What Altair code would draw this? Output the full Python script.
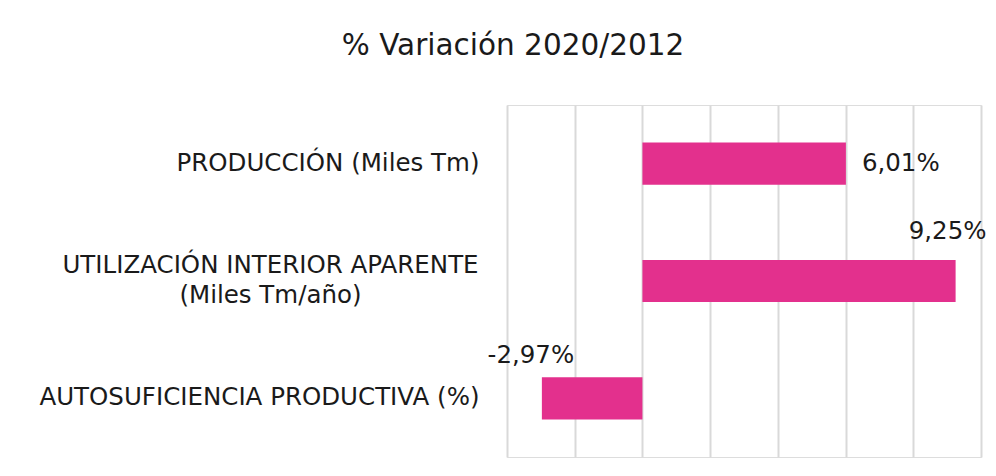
import altair as alt
import pandas as pd

categories = [
    "PRODUCCIÓN (Miles Tm)",
    "UTILIZACIÓN INTERIOR APARENTE|(Miles Tm/año)",
    "AUTOSUFICIENCIA PRODUCTIVA (%)",
]
variation = [6.01, 9.25, -2.97]
x_ticks = [-4, -2, 0, 2, 4, 6, 8, 10]
title_text = "% Variación 2020/2012"

FONT = "DejaVu Sans"
PINK = "#E3308D"
TXT = "#1a1a1a"

df = pd.DataFrame({"cat": categories, "v": variation})

two_line = "indexof(datum.value, '|') >= 0"

y_enc = alt.Y(
    "cat:N",
    sort=categories,
    title=None,
    scale=alt.Scale(paddingInner=0.64, paddingOuter=0.32),
    axis=alt.Axis(
        domain=False,
        ticks=False,
        grid=False,
        labelExpr="split(datum.label, '|')",
        labelFont=FONT,
        labelFontSize=24.5,
        labelColor=TXT,
        labelLimit=700,
        labelLineHeight=30,
        labelAlign={"condition": {"test": two_line, "value": "center"}, "value": "right"},
        labelPadding={"condition": {"test": two_line, "value": 237}, "value": 28},
        labelOffset={"condition": {"test": two_line, "value": -15}, "value": 0},
    ),
)

x_enc = alt.X(
    "v:Q",
    scale=alt.Scale(domain=[x_ticks[0], x_ticks[-1]], nice=False, zero=True),
    axis=alt.Axis(
        values=x_ticks,
        grid=True,
        gridColor="#d9d9d9",
        gridWidth=2,
        labels=False,
        ticks=False,
        domain=False,
        title=None,
    ),
)

base = alt.Chart(df).encode(y=y_enc, x=x_enc)

bars = base.mark_bar(color=PINK)

label_expr = "(datum.v < 0 ? '-' : '') + replace(format(abs(datum.v), '.2f'), '.', ',') + '%'"


def value_text(idx, align, dx, dy):
    return (
        base.transform_filter(alt.datum.cat == categories[idx])
        .transform_calculate(lbl=label_expr)
        .mark_text(font=FONT, fontSize=24.5, color=TXT, align=align, baseline="middle", dx=dx, dy=dy)
        .encode(text="lbl:N")
    )


t1 = value_text(0, "left", 16, 0)
t2 = value_text(1, "center", -8, -49)
t3 = value_text(2, "center", -11, -42)

chart = (
    alt.layer(bars, t1, t2, t3)
    .properties(
        width=474,
        height=352,
        autosize=alt.AutoSizeParams(type="none"),
        padding={"left": 499, "top": 97, "right": 7, "bottom": 3},
        title=alt.TitleParams(
            title_text,
            font=FONT,
            fontSize=29.5,
            fontWeight="normal",
            color=TXT,
            anchor="middle",
            dx=-231,
            offset=44,
        ),
    )
    .configure_view(stroke=None)
    .configure(background="white")
)

chart.save("out.html", embed_options={"renderer": "svg", "actions": False})
